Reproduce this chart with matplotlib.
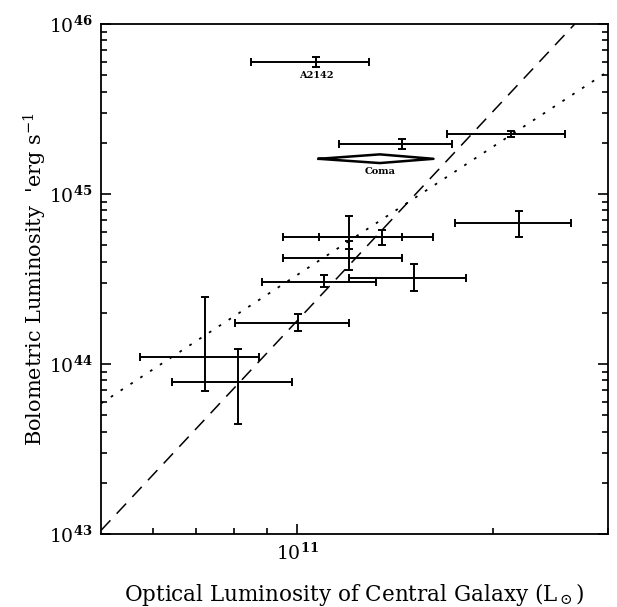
import matplotlib.pyplot as plt
import numpy as np
from matplotlib.ticker import FixedLocator, NullFormatter, FixedFormatter

plt.rcParams['font.family'] = 'DejaVu Serif'
plt.rcParams['mathtext.fontset'] = 'dejavuserif'

# cluster central galaxies: optical luminosity vs. X-ray bolometric luminosity
L_opt = np.array([7.23e10, 8.11e10, 1.0035e11, 1.10e11, 1.51e11, 1.20e11,
                  1.20e11, 1.35e11, 2.19e11, 1.07e11, 1.45e11, 2.13e11])
L_opt_lo = np.array([5.73e10, 6.43e10, 8.02e10, 8.82e10, 1.20e11, 9.53e10,
                     9.53e10, 1.08e11, 1.75e11, 8.50e10, 1.16e11, 1.70e11])
L_opt_hi = np.array([8.73e10, 9.82e10, 1.20e11, 1.32e11, 1.82e11, 1.45e11,
                     1.45e11, 1.62e11, 2.63e11, 1.29e11, 1.73e11, 2.58e11])
L_bol = np.array([1.10e44, 7.83e43, 1.75e44, 3.05e44, 3.19e44, 5.58e44,
                  4.19e44, 5.55e44, 6.75e44, 5.96e45, 1.96e45, 2.25e45])
L_bol_lo = np.array([6.93e43, 4.44e43, 1.56e44, 2.82e44, 2.70e44, 4.74e44,
                     3.57e44, 5.01e44, 5.61e44, 5.61e45, 1.83e45, 2.15e45])
L_bol_hi = np.array([2.47e44, 1.22e44, 1.98e44, 3.34e44, 3.89e44, 7.43e44,
                     5.30e44, 6.14e44, 7.94e44, 6.43e45, 2.11e45, 2.35e45])

# Coma drawn as a diamond
coma_x = [1.08e11, 1.34e11, 1.62e11, 1.34e11, 1.08e11]
coma_y = [1.61e45, 1.71e45, 1.61e45, 1.52e45, 1.61e45]

# fitted relations
dash_x = [5.0e10, 2.67e11]
dash_y = [1.05e43, 1.0e46]
dot_x = [5.0e10, 3.0e11]
dot_y = [5.86e43, 5.25e45]

fig = plt.figure(figsize=(6.17, 6.07), dpi=100)
ax = fig.add_axes([0.1637, 0.1203, 0.8213, 0.8402])

ax.errorbar(L_opt, L_bol,
            xerr=[L_opt - L_opt_lo, L_opt_hi - L_opt],
            yerr=[L_bol - L_bol_lo, L_bol_hi - L_bol],
            fmt='none', ecolor='black', elinewidth=1.4, capsize=3, capthick=1.4)

ax.plot(coma_x, coma_y, color='black', lw=1.8)
ax.plot(dash_x, dash_y, color='black', lw=1.1, dashes=(9, 6))
ax.plot(dot_x, dot_y, color='black', lw=1.3, dashes=(1.5, 5))

ax.text(1.07e11, 4.95e45, 'A2142', fontsize=7, fontweight='bold',
        ha='center', va='center')
ax.text(1.34e11, 1.36e45, 'Coma', fontsize=7, fontweight='bold',
        ha='center', va='center')

ax.set_xscale('log')
ax.set_yscale('log')
ax.set_xlim(5e10, 3e11)
ax.set_ylim(1e43, 1e46)

ax.xaxis.set_major_locator(FixedLocator([1e11]))
ax.xaxis.set_major_formatter(FixedFormatter([r'$10^{\mathbf{11}}$']))
ax.xaxis.set_minor_locator(FixedLocator([6e10, 7e10, 8e10, 9e10, 2e11, 3e11]))
ax.xaxis.set_minor_formatter(NullFormatter())

ax.yaxis.set_major_locator(FixedLocator([1e43, 1e44, 1e45, 1e46]))
ax.yaxis.set_major_formatter(FixedFormatter(
    [r'$10^{\mathbf{43}}$', r'$10^{\mathbf{44}}$',
     r'$10^{\mathbf{45}}$', r'$10^{\mathbf{46}}$']))
ax.yaxis.set_minor_locator(FixedLocator(
    [m * 10.0 ** e for e in (43, 44, 45) for m in range(2, 10)]))
ax.yaxis.set_minor_formatter(NullFormatter())

ax.tick_params(which='both', direction='in', right=True, top=False,
               width=1.2, labelsize=13.5)
ax.tick_params(which='major', length=7, pad=6)
ax.tick_params(which='minor', length=4)
for s in ax.spines.values():
    s.set_linewidth(1.3)

ax.set_xlabel(r'Optical Luminosity of Central Galaxy (L$_\odot$)',
              fontsize=15.5, va='center')
ax.set_ylabel(r"Bolometric Luminosity  'erg s$^{-1}$", fontsize=15,
              va='center')
ax.xaxis.set_label_coords(0.5, -0.118)
ax.yaxis.set_label_coords(-0.13, 0.5)

fig.savefig('out.png', dpi=100)
